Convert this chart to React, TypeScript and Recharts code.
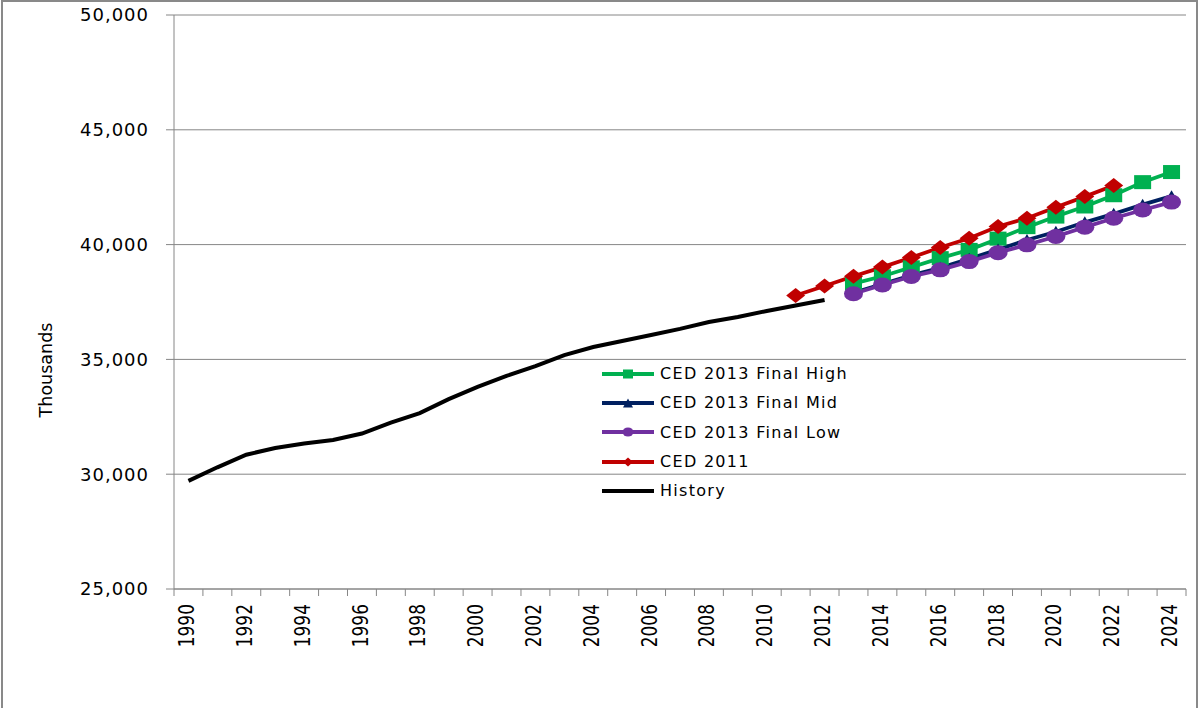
import React from 'react';
import { LineChart, Line, XAxis, YAxis, CartesianGrid, Legend } from 'recharts';

// Calendar years on the category axis
const years = [
  1990, 1991, 1992, 1993, 1994, 1995, 1996, 1997, 1998, 1999,
  2000, 2001, 2002, 2003, 2004, 2005, 2006, 2007, 2008, 2009,
  2010, 2011, 2012, 2013, 2014, 2015, 2016, 2017, 2018, 2019,
  2020, 2021, 2022, 2023, 2024,
];

// Years that get a printed label
const labelYears = [
  1990, 1992, 1994, 1996, 1998, 2000, 2002, 2004, 2006, 2008,
  2010, 2012, 2014, 2016, 2018, 2020, 2022, 2024,
];

// Value axis ticks (thousands)
const valueTicks = [25000, 30000, 35000, 40000, 45000, 50000];

// Recorded history, 1990–2012
const historyStart = 1990;
const historyValues = [
  29710, 30300, 30850, 31140, 31340, 31490, 31770, 32250, 32660, 33270,
  33800, 34280, 34710, 35190, 35540, 35800, 36060, 36330, 36630, 36850,
  37110, 37350, 37590,
];

// CED 2011 forecast, 2011–2022
const ced2011Start = 2011;
const ced2011Values = [
  37780, 38200, 38620, 39020, 39440, 39870, 40280, 40790, 41150, 41630,
  42090, 42570,
];

// CED 2013 final scenarios, 2013–2024
const ced2013Start = 2013;
const highValues = [
  38300, 38620, 39010, 39410, 39770, 40260, 40760, 41220, 41660, 42150,
  42720, 43160,
];
const midValues = [
  37900, 38280, 38660, 38990, 39380, 39790, 40200, 40560, 40970, 41340,
  41740, 42110,
];
const lowValues = [
  37860, 38240, 38610, 38900, 39260, 39650, 39990, 40350, 40760, 41150,
  41510, 41850,
];

const pick = (values: number[], start: number, year: number) => {
  const i = year - start;
  return i >= 0 && i < values.length ? values[i] : undefined;
};

const rows = years.map((year) => ({
  year,
  high: pick(highValues, ced2013Start, year),
  mid: pick(midValues, ced2013Start, year),
  low: pick(lowValues, ced2013Start, year),
  ced2011: pick(ced2011Values, ced2011Start, year),
  history: pick(historyValues, historyStart, year),
}));

// Tick marks sit between the years, label ticks sit on the years
const boundaryTicks = [...years.map((y) => y - 0.5), years[years.length - 1] + 0.5];
const xTicks = [...boundaryTicks, ...labelYears];

const AXIS_GRAY = '#868686';
const FONT = "'DejaVu Sans', Verdana, sans-serif";

type Kind = 'square' | 'triangle' | 'circle' | 'diamond' | 'none';

const series: { key: string; name: string; color: string; kind: Kind }[] = [
  { key: 'high', name: 'CED 2013 Final High', color: '#00B050', kind: 'square' },
  { key: 'mid', name: 'CED 2013 Final Mid', color: '#002060', kind: 'triangle' },
  { key: 'low', name: 'CED 2013 Final Low', color: '#7030A0', kind: 'circle' },
  { key: 'ced2011', name: 'CED 2011', color: '#C00000', kind: 'diamond' },
  { key: 'history', name: 'History', color: '#000000', kind: 'none' },
];

const markerSize: Record<Kind, [number, number]> = {
  square: [17, 14],
  triangle: [14, 12],
  circle: [19, 15],
  diamond: [19, 15],
  none: [0, 0],
};

function marker(kind: Kind, cx: number, cy: number, w: number, h: number, color: string) {
  switch (kind) {
    case 'square':
      return <rect x={cx - w / 2} y={cy - h / 2} width={w} height={h} fill={color} />;
    case 'triangle':
      return (
        <polygon
          points={`${cx},${cy - h / 2} ${cx + w / 2},${cy + h / 2} ${cx - w / 2},${cy + h / 2}`}
          fill={color}
        />
      );
    case 'circle':
      return <ellipse cx={cx} cy={cy} rx={w / 2} ry={h / 2} fill={color} />;
    case 'diamond':
      return (
        <polygon
          points={`${cx},${cy - h / 2} ${cx + w / 2},${cy} ${cx},${cy + h / 2} ${cx - w / 2},${cy}`}
          fill={color}
        />
      );
    default:
      return null;
  }
}

const makeDot = (kind: Kind, color: string) => (props: any) => {
  const { cx, cy, index } = props;
  if (cx == null || cy == null || props.value == null) return <g key={`d-${index}`} />;
  const [w, h] = markerSize[kind];
  return <g key={`d-${index}`}>{marker(kind, cx, cy, w, h, color)}</g>;
};

const XTick = (props: any) => {
  const { x, y, payload } = props;
  const v = payload.value as number;
  if (!Number.isInteger(v)) {
    return <line x1={x} x2={x} y1={y} y2={y + 7} stroke={AXIS_GRAY} strokeWidth={1} />;
  }
  return (
    <text
      transform={`translate(${x - 1.5},${y + 15}) rotate(-90) scale(1,1.2)`}
      textAnchor="end"
      dominantBaseline="central"
      fontFamily={FONT}
      fontSize={17}
      fill="#000"
    >
      {v}
    </text>
  );
};

const AxisTitle = () => (
  <text
    transform="translate(46,370) rotate(-90)"
    textAnchor="middle"
    dominantBaseline="central"
    fontFamily={FONT}
    fontSize={17.5}
    fill="#000"
  >
    Thousands
  </text>
);

const LegendBox = () => (
  <div style={{ fontFamily: FONT, fontSize: 16, letterSpacing: 1.3, color: '#000' }}>
    {series.map((s) => (
      <div key={s.key} style={{ display: 'flex', alignItems: 'center', height: 29.3 }}>
        <svg width={56} height={14} style={{ display: 'block' }}>
          <line x1={1} x2={53} y1={7} y2={7} stroke={s.color} strokeWidth={4} />
          {marker(s.kind, 27, 7, s.kind === 'circle' ? 11 : 10, s.kind === 'circle' ? 9 : 9, s.color)}
        </svg>
        <span style={{ marginLeft: 3, whiteSpace: 'nowrap' }}>{s.name}</span>
      </div>
    ))}
  </div>
);

export default function App() {
  return (
    <div
      style={{
        position: 'absolute',
        left: 0,
        top: 0,
        width: 1199,
        height: 708,
        overflow: 'hidden',
        background: '#fff',
      }}
    >
      <div
        style={{
          position: 'absolute',
          left: 1,
          top: 0,
          width: 1197,
          height: 730,
          border: '2px solid #898989',
          boxSizing: 'border-box',
        }}
      />
      <div style={{ position: 'absolute', left: 0, top: 0 }}>
        <LineChart
          width={1199}
          height={708}
          data={rows}
          margin={{ top: 15, right: 13, bottom: 0, left: 0 }}
        >
          <CartesianGrid vertical={false} stroke={AXIS_GRAY} strokeWidth={1} />
          <XAxis
            dataKey="year"
            type="number"
            domain={[boundaryTicks[0], boundaryTicks[boundaryTicks.length - 1]]}
            ticks={xTicks}
            interval={0}
            tickSize={0}
            tickMargin={0}
            tickLine={false}
            tick={<XTick />}
            axisLine={{ stroke: AXIS_GRAY }}
            height={119}
          />
          <YAxis
            type="number"
            domain={[25000, 50000]}
            ticks={valueTicks}
            interval={0}
            width={174}
            tickSize={8}
            tickMargin={17}
            tickLine={{ stroke: AXIS_GRAY }}
            axisLine={{ stroke: AXIS_GRAY }}
            tickFormatter={(v: number) => v.toLocaleString('en-US')}
            tick={{ fontFamily: FONT, fontSize: 18, fill: '#000', letterSpacing: 1 }}
            label={<AxisTitle />}
          />
          <Legend
            layout="vertical"
            align="center"
            verticalAlign="middle"
            content={<LegendBox />}
            wrapperStyle={{ left: 601, top: 359, width: 300, height: 150 }}
          />
          {series.map((s) => (
            <Line
              key={s.key}
              dataKey={s.key}
              name={s.name}
              type="linear"
              stroke={s.color}
              strokeWidth={s.kind === 'none' ? 4 : 3.75}
              dot={s.kind === 'none' ? false : makeDot(s.kind, s.color)}
              activeDot={false}
              connectNulls={false}
              isAnimationActive={false}
            />
          ))}
        </LineChart>
      </div>
    </div>
  );
}
